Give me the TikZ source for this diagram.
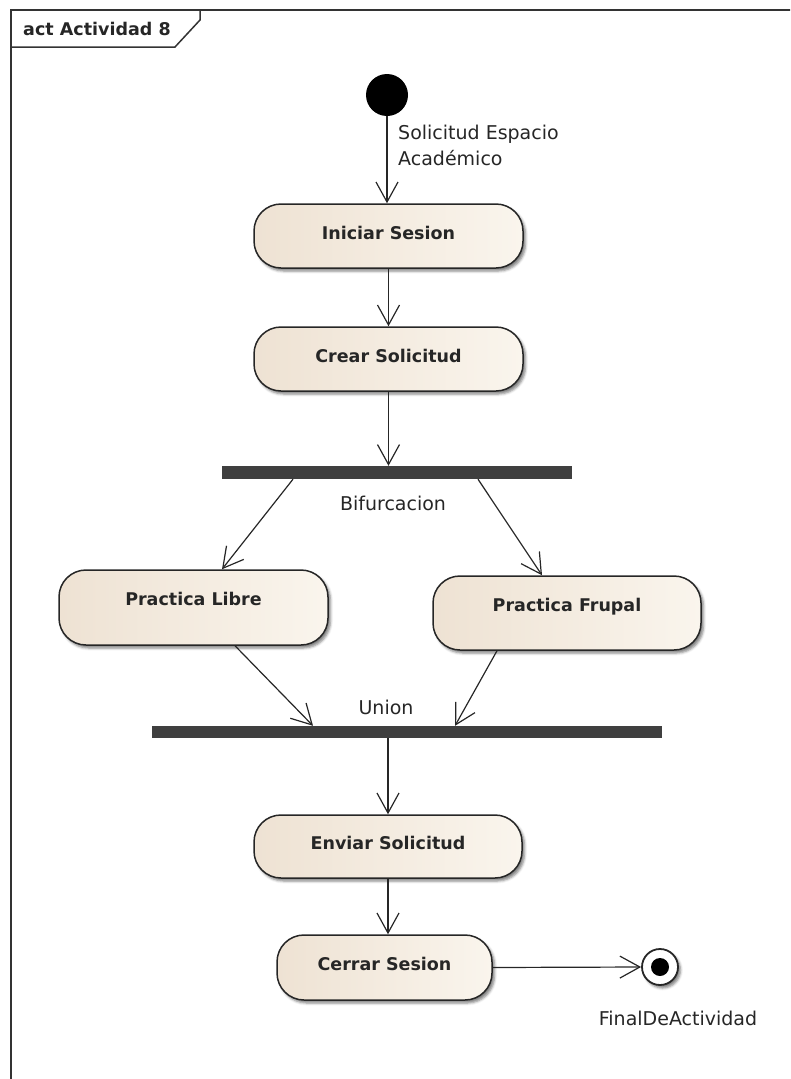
\documentclass[tikz,border=0pt]{standalone}
\usepackage{fontspec}
\setmainfont{DejaVu Sans}
\usetikzlibrary{arrows.meta,shadows.blur,calc}

\definecolor{ink}{HTML}{262626}
\definecolor{barcol}{HTML}{3F3F3F}
\definecolor{actL}{HTML}{EEE2D3}
\definecolor{actR}{HTML}{FAF5ED}
\definecolor{framecol}{HTML}{333333}

\tikzset{
  softshadow/.style={blur shadow={shadow xshift=2.5pt, shadow yshift=-3pt,
      shadow blur radius=2.5pt, shadow opacity=50}},
  action/.style={draw=ink, line width=1.5pt, rounded corners=27pt,
      left color=actL, right color=actR, minimum height=64pt,
      font=\fontsize{17.5}{20}\bfseries, text=ink,
      text height=12pt, text depth=6pt, softshadow},
  bar/.style={fill=barcol, draw=none, inner sep=0pt, minimum height=13pt},
  flow/.style={draw=ink, line width=1.2pt,
      -{Straight Barb[length=20pt,width=22pt]}},
  tag/.style={font=\fontsize{19}{26}\selectfont, text=ink, inner sep=0pt}
}

\begin{document}
\begin{tikzpicture}[x=1pt,y=-1pt]
\useasboundingbox (0,0) rectangle (790,1079);

% diagram frame and its name tag
\begin{scope}
  \clip (0,0) rectangle (790,1079);
  \draw[framecol, line width=2pt] (11,1090) -- (11,10) -- (800,10);
\end{scope}
\draw[framecol, line width=1.5pt] (11,10) -- (200,10) -- (200,20) -- (175,47) -- (11,47);
\node[anchor=base west, inner sep=0pt, font=\fontsize{17.5}{20}\bfseries, text=ink]
  (frametitle) at (23,35) {act Actividad 8};

% initial and final nodes
\node[circle, fill=black, minimum size=42pt, inner sep=0pt] (start) at (387,95) {};
\node[circle, draw=ink, line width=1.8pt, fill=white, minimum size=36pt,
      inner sep=0pt, softshadow] (end) at (660,967) {};
\node[circle, fill=black, minimum size=18pt, inner sep=0pt] (endcore) at (end) {};

% actions
\node[action, minimum width=269pt] (iniciar) at (388.5,236) {Iniciar Sesion};
\node[action, minimum width=269pt] (crear) at (388.5,359) {Crear Solicitud};
\node[action, minimum width=269pt, minimum height=75pt,
      text height=10pt, text depth=14pt] (libre) at (193.5,607.5) {Practica Libre};
\node[action, minimum width=268pt, minimum height=74pt,
      text height=10pt, text depth=14pt] (frupal) at (567,613) {Practica Frupal};
\node[action, minimum width=268pt, minimum height=63pt] (enviar) at (388,846.5) {Enviar Solicitud};
\node[action, minimum width=215pt, minimum height=65pt] (cerrar) at (384.5,967.5) {Cerrar Sesion};

% fork and join bars
\node[bar, minimum width=350pt] (fork) at (397,472.5) {};
\node[bar, minimum width=510pt, minimum height=12pt] (join) at (407,732) {};

% control flows
\draw[flow] (start.south) -- (start.south |- iniciar.north);
\draw[flow] (iniciar.south) -- (crear.north);
\draw[flow] (crear.south) -- (crear.south |- fork.north);
\draw[flow] ([xshift=-104pt]fork.south) -- ([xshift=28.5pt]libre.north);
\draw[flow] ([xshift=81pt]fork.south) -- ([xshift=-25pt]frupal.north);
\draw[flow] ([xshift=41.5pt]libre.south) -- ([xshift=-94pt]join.north);
\draw[flow] ([xshift=-70pt]frupal.south) -- ([xshift=48pt]join.north);
\draw[flow] (join.south -| enviar.north) -- (enviar.north);
\draw[flow] (enviar.south) -- (enviar.south |- cerrar.north);
\draw[flow] (cerrar.east) -- (end.west);

% labels
\node[tag, anchor=north west, align=left] (flowlabel) at (398,124.5)
  {Solicitud Espacio\\Académico};
\node[tag] (forkname) at (393,503) {Bifurcacion};
\node[tag] (joinname) at (386,707) {Union};
\node[tag] (endname) at (678,1018) {FinalDeActividad};
\end{tikzpicture}
\end{document}
